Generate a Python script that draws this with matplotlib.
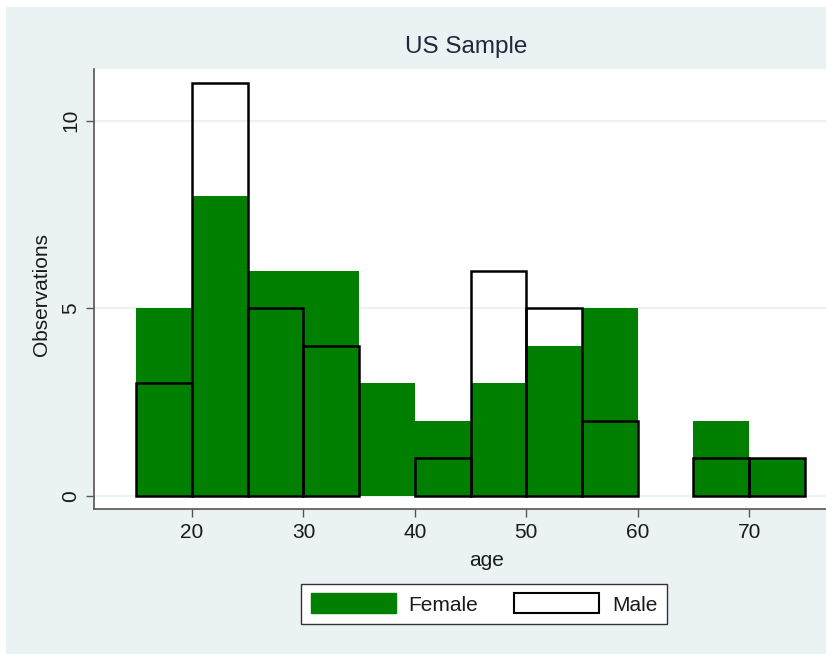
import numpy as np
import matplotlib.pyplot as plt
from matplotlib.patches import Rectangle, Patch

# age histogram, 5-year bins from 15 to 75
bin_edges = [15, 20, 25, 30, 35, 40, 45, 50, 55, 60, 65, 70]
female_counts = [5, 8, 6, 6, 3, 2, 3, 4, 5, 0, 2, 1]
male_counts = [3, 11, 5, 4, 0, 1, 6, 5, 2, 0, 1, 1]
x_ticks = [20, 30, 40, 50, 60, 70]
y_ticks = [0, 5, 10]

GREEN = "#007f00"
BG = "#eaf2f3"
TXT = "#1a1a1a"

plt.rcParams["font.family"] = ["Liberation Sans", "DejaVu Sans"]

fig = plt.figure(figsize=(8.26, 6.54), dpi=100, facecolor="white")
fig.patches.append(Rectangle((6 / 826, 0), 1, 1 - 7 / 654, transform=fig.transFigure,
                             facecolor=BG, edgecolor="none", zorder=-10))

ax = fig.add_axes([94 / 826, 1 - 509 / 654, 1 - 94 / 826, (509 - 69) / 654])
ax.set_facecolor("white")

edges = np.array(bin_edges)
female = np.array(female_counts)
f_keep = female > 0
ax.bar(edges[f_keep], female[f_keep], width=5, align="edge", color=GREEN,
       edgecolor="none", zorder=2)

male = np.array(male_counts)
m_keep = male > 0
ax.bar(edges[m_keep], male[m_keep], width=5, align="edge", fill=False,
       edgecolor="black", linewidth=1.8, zorder=3)

ax.set_xlim(11.2, 76.9)
ax.set_ylim(-0.355, 11.38)
ax.set_xticks(x_ticks)
ax.set_yticks(y_ticks)
ax.yaxis.grid(True, color=BG, linewidth=1.5, zorder=0)
ax.set_axisbelow(True)

for side in ["top", "right"]:
    ax.spines[side].set_visible(False)
for side in ["left", "bottom"]:
    ax.spines[side].set_color("#555555")
    ax.spines[side].set_linewidth(1.2)

ax.tick_params(axis="both", length=6, width=1, color="#555555",
               labelsize=15, labelcolor=TXT, pad=4)
for lbl in ax.get_yticklabels():
    lbl.set_rotation(90)
    lbl.set_va("center")

fig.text(487 / 826, 1 - 560 / 654, "age", ha="center", va="center",
         fontsize=15, color=TXT)
fig.text(42 / 826, 1 - 294 / 654, "Observations", ha="center", va="center",
         rotation=90, fontsize=15, color=TXT)
fig.text(466 / 826, 1 - 47 / 654, "US Sample", ha="center", va="center",
         fontsize=17.5, color="#1e2a3a")

handles = [Patch(facecolor=GREEN, edgecolor=GREEN, label="Female"),
           Patch(facecolor="white", edgecolor="black", linewidth=1.5, label="Male")]
leg = fig.legend(handles=handles, loc="center", ncol=2,
                 bbox_to_anchor=(484 / 826, 1 - 604 / 654),
                 bbox_transform=fig.transFigure, fontsize=15,
                 handlelength=4.1, handleheight=1.1, handletextpad=0.6,
                 columnspacing=1.7, borderpad=0.45, borderaxespad=0,
                 fancybox=False, framealpha=1)
leg.get_frame().set_edgecolor("#333333")
leg.get_frame().set_linewidth(1.0)
for t in leg.get_texts():
    t.set_color(TXT)

fig.savefig("out.png", dpi=100, facecolor=fig.get_facecolor())
